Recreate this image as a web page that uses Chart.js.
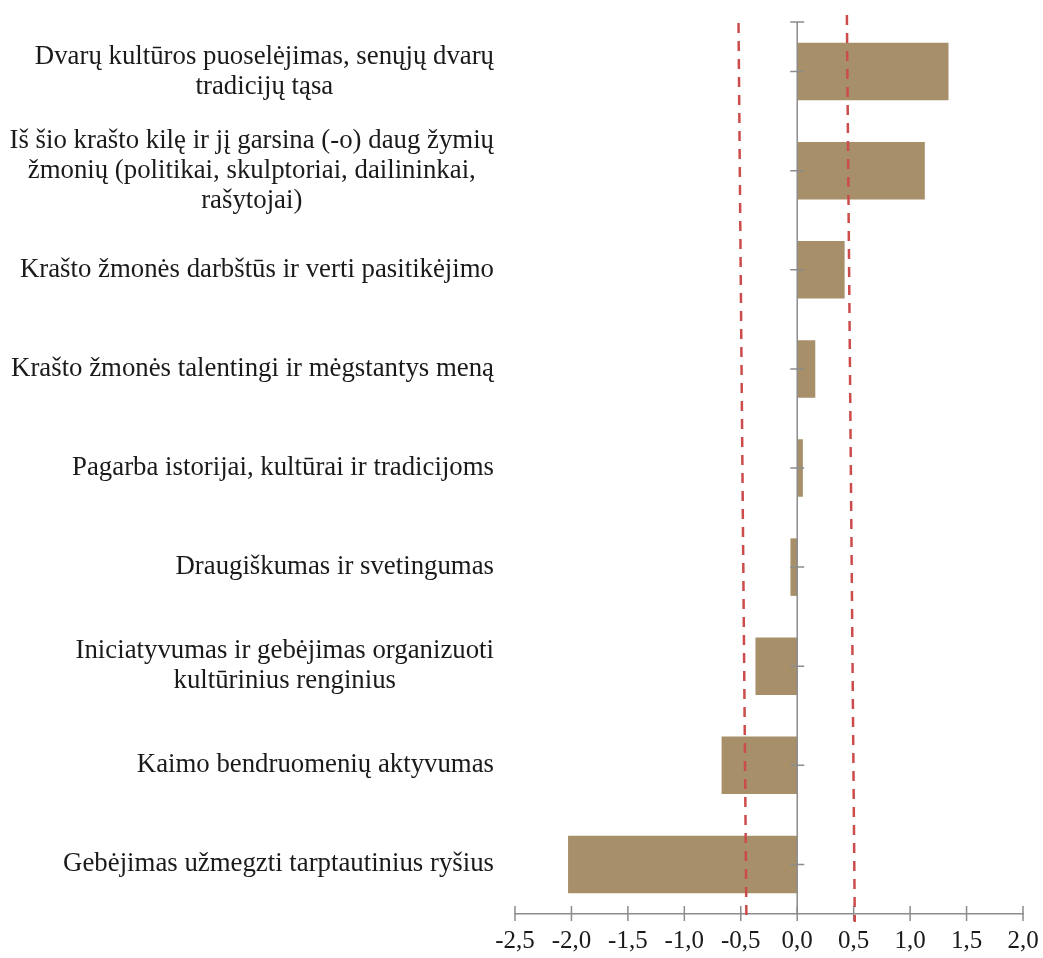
<!DOCTYPE html>
<html>
<head>
<meta charset="utf-8">
<script src="https://cdn.jsdelivr.net/npm/chart.js@4"></script>
<style>
  body { margin: 0; background: #fff; }
  #wrap { width: 1043px; height: 958px; position: relative; }
</style>
</head>
<body>
<div id="wrap"><canvas id="mycanvas"></canvas></div>
<script>
var labels = [
  ["Dvarų kultūros puoselėjimas, senųjų dvarų", "tradicijų tąsa"],
  ["Iš šio krašto kilę ir jį garsina (-o) daug žymių", "žmonių (politikai, skulptoriai, dailininkai,", "rašytojai)"],
  "Krašto žmonės darbštūs ir verti pasitikėjimo",
  "Krašto žmonės talentingi ir mėgstantys meną",
  "Pagarba istorijai, kultūrai ir tradicijoms",
  "Draugiškumas ir svetingumas",
  ["Iniciatyvumas ir gebėjimas organizuoti", "kultūrinius renginius"],
  "Kaimo bendruomenių aktyvumas",
  "Gebėjimas užmegzti tarptautinius ryšius"
];
var values = [1.34, 1.13, 0.42, 0.16, 0.05, -0.06, -0.37, -0.67, -2.03];

// dashed reference lines: value at top end, value at bottom end
var refLeft = [-0.52, -0.45];
var refRight = [0.44, 0.51];

var xTicks = [-2.5, -2.0, -1.5, -1.0, -0.5, 0.0, 0.5, 1.0, 1.5, 2.0];

var font = "'Liberation Serif', 'Times New Roman', serif";

var extras = {
  id: 'extras',
  afterDatasetsDraw: function(chart) {
    var ctx = chart.ctx;
    var xs = chart.scales.x, ys = chart.scales.y;
    var area = chart.chartArea;
    var x0 = xs.getPixelForValue(0);
    ctx.save();
    // zero axis line
    ctx.strokeStyle = '#8c8c8c';
    ctx.lineWidth = 1.5;
    ctx.beginPath();
    ctx.moveTo(x0, area.top);
    ctx.lineTo(x0, area.bottom);
    ctx.stroke();
    // tick marks crossing the zero axis
    ctx.beginPath();
    ctx.moveTo(x0 - 7, area.top);
    ctx.lineTo(x0 + 7, area.top);
    for (var i = 0; i < labels.length; i++) {
      var yy = ys.getPixelForValue(i);
      ctx.moveTo(x0 - 7, yy);
      ctx.lineTo(x0 + 7, yy);
    }
    ctx.stroke();
    // bottom axis ticks crossing
    ctx.beginPath();
    xTicks.forEach(function(v) {
      var px = xs.getPixelForValue(v);
      ctx.moveTo(px, area.bottom - 8);
      ctx.lineTo(px, area.bottom + 7);
    });
    ctx.stroke();
    // dashed lines
    ctx.strokeStyle = '#cc4c4c';
    ctx.lineWidth = 2.5;
    ctx.setLineDash([10, 8]);
    ctx.beginPath();
    ctx.moveTo(xs.getPixelForValue(refLeft[0]), area.top + 1);
    ctx.lineTo(xs.getPixelForValue(refLeft[1]), area.bottom + 8);
    ctx.moveTo(xs.getPixelForValue(refRight[0]), area.top - 7);
    ctx.lineTo(xs.getPixelForValue(refRight[1]), area.bottom + 8);
    ctx.stroke();
    ctx.setLineDash([]);
    // category labels: block right-aligned, lines centered in block
    ctx.fillStyle = '#1a1a1a';
    ctx.font = '26.8px ' + font;
    ctx.textBaseline = 'middle';
    ctx.textAlign = 'center';
    var right = 494, lh = 30;
    labels.forEach(function(lab, i) {
      var lines = Array.isArray(lab) ? lab : [lab];
      var w = 0;
      lines.forEach(function(l) { w = Math.max(w, ctx.measureText(l).width); });
      var cx = right - w / 2;
      var yc = ys.getPixelForValue(i);
      var y1 = yc - (lines.length - 1) * lh / 2;
      lines.forEach(function(l, k) { ctx.fillText(l, cx, y1 + k * lh); });
    });
    ctx.restore();
  }
};

var ctx = document.getElementById('mycanvas');
new Chart(ctx, {
  type: 'bar',
  data: {
    labels: labels,
    datasets: [{
      data: values,
      backgroundColor: '#a68f69',
      borderWidth: 0,
      barPercentage: 0.58,
      categoryPercentage: 1.0
    }]
  },
  options: {
    indexAxis: 'y',
    responsive: true,
    maintainAspectRatio: false,
    animation: false,
    layout: { padding: { left: 515, right: 0, top: 22, bottom: -10 } },
    plugins: { legend: { display: false }, tooltip: { enabled: false } },
    scales: {
      x: {
        min: -2.5, max: 2.0,
        afterBuildTicks: function(axis) { axis.ticks = xTicks.map(function(v) { return { value: v }; }); },
        afterFit: function(axis) { axis.paddingRight = 20; },
        grid: { display: false, drawTicks: false },
        border: { display: true, color: '#8c8c8c', width: 1.5 },
        ticks: {
          padding: 12,
          color: '#1a1a1a',
          font: { family: font, size: 25 },
          callback: function(v) { return v.toFixed(1).replace('.', ','); }
        }
      },
      y: {
        grid: { display: false, drawTicks: false },
        border: { display: false },
        ticks: { display: false }
      }
    }
  },
  plugins: [extras]
});
</script>
</body>
</html>
